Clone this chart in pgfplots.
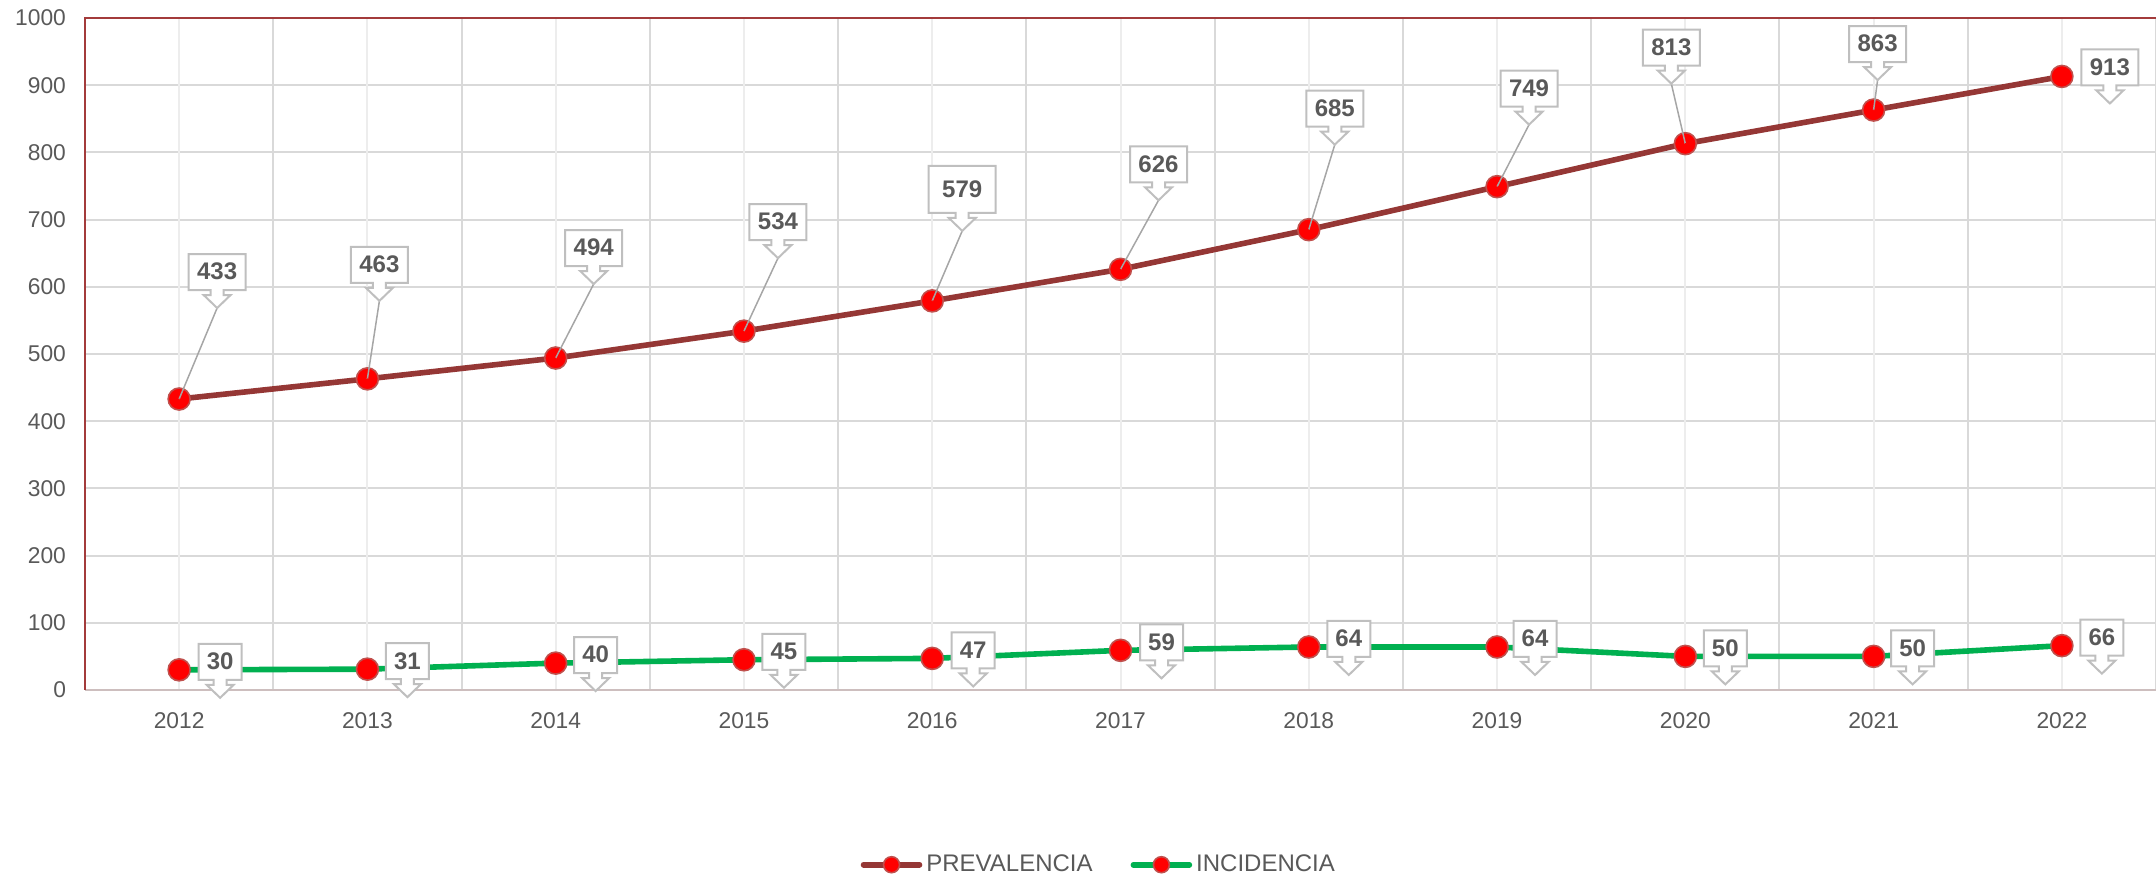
\documentclass[border=0pt]{standalone}
\usepackage{fontspec}
\setmainfont{Liberation Sans}
\usepackage{pgfplots}
\usepackage{pgfplotstable}
\pgfplotsset{compat=1.18}
\definecolor{prevc}{HTML}{953735}
\definecolor{incc}{HTML}{00B050}
\definecolor{mkred}{HTML}{FF0000}
\definecolor{mkbord}{HTML}{C0504D}
\definecolor{txtgray}{HTML}{595959}
\definecolor{gridc}{HTML}{D9D9D9}
\definecolor{gridl}{HTML}{EDEDED}
\definecolor{boxc}{HTML}{BFBFBF}
\definecolor{leadc}{HTML}{A6A6A6}
\definecolor{axred}{HTML}{A33B3B}
\definecolor{axbot}{HTML}{CDBEBE}

\pgfplotstableread{
x y dx dy sw fw hh lead
0 433 19 45.5 11 28.5 18 1
1 463 6 39 11 28.5 18 1
2 494 19 37 11 28.5 18 1
3 534 17 36.5 11 28.5 18 1
4 579 15 35 13.5 33.5 23.5 1
5 626 19 34.5 11 28.5 18 1
6 685 13 42.5 11 28.5 18 1
7 749 16 31 11 28.5 18 1
8 813 -7 30 11 28.5 18 1
9 863 2 15 11 28.5 18 1
10 913 24 -13.5 11 28.5 18 0
}\prevtab

\pgfplotstableread{
x y dx dy sw fw hh lead
0 30 20.5 -14 7.5 21.5 18 0
1 31 20 -14 7.5 21.5 18 0
2 40 20 -14 7.5 21.5 18 0
3 45 20 -14 7.5 21.5 18 0
4 47 20.5 -14 7.5 21.5 18 0
5 59 20.5 -14 7.5 21.5 18 0
6 64 20 -14 7.5 21.5 18 0
7 64 19 -14 7.5 21.5 18 0
8 50 20 -14 7.5 21.5 18 0
9 50 19.5 -14 7.5 21.5 18 0
10 66 20 -14 7.5 21.5 18 0
}\inctab

\pgfplotsset{
  callout/.style={
    scatter, only marks, mark=*, mark size=0.01pt, color=mkred,
    visualization depends on={\thisrow{dx}\as\cdx},
    visualization depends on={\thisrow{dy}\as\cdy},
    visualization depends on={\thisrow{sw}\as\csw},
    visualization depends on={\thisrow{fw}\as\cfw},
    visualization depends on={\thisrow{hh}\as\chh},
    visualization depends on={\thisrow{lead}\as\clead},
    visualization depends on={\thisrow{y}\as\clbl},
    scatter/@pre marker code/.code={%
      \draw[leadc, line width=0.75pt, draw opacity=\clead] (0pt,0pt) -- (\cdx pt,\cdy pt);
      \draw[boxc, line width=1pt, fill=white, line join=miter]
        (\cdx pt,\cdy pt) -- ++(-6.75pt,6.5pt) -- ++(3.5pt,0pt) -- ++(0pt,2.5pt)
        -- ++(-\csw pt,0pt) -- ++(0pt,\chh pt) -- ++(\cfw pt,0pt) -- ++(0pt,-\chh pt)
        -- ++(-\csw pt,0pt) -- ++(0pt,-2.5pt) -- ++(3.5pt,0pt) -- cycle;
      \path (\cdx pt,\cdy pt) ++(0pt,9pt) node[anchor=south, minimum height=\chh pt,
        inner sep=0pt, text=txtgray, font=\bfseries\fontsize{12}{14}\selectfont]
        {\pgfmathprintnumber[fixed,precision=0,assume math mode=true]{\clbl}};
    },
    scatter/@post marker code/.code={},
  }
}

\begin{document}
\begin{tikzpicture}
\begin{axis}[
  scale only axis, width=1035.5pt, height=336pt,
  xmin=-0.5, xmax=10.5, ymin=0, ymax=1000,
  clip=false,
  axis line style={draw=none},
  tick style={draw=none},
  xtick={-0.5,0.5,...,10.5}, xticklabels={},
  extra x ticks={0,1,2,3,4,5,6,7,8,9,10},
  extra x tick labels={2012,2013,2014,2015,2016,2017,2018,2019,2020,2021,2022},
  extra x tick style={grid=major, major grid style={gridl, line width=1pt}},
  ytick={0,100,...,1000},
  xmajorgrids, ymajorgrids,
  major grid style={gridc, line width=1pt},
  /pgf/number format/assume math mode=true,
  /pgf/number format/1000 sep={},
  ticklabel style={font=\fontsize{11.4}{13}\selectfont, text=txtgray},
  yticklabel style={xshift=-6pt},
  xticklabel style={yshift=-7.75pt},
  legend style={draw=none, fill=none, at={(0.490,-0.26)}, anchor=center,
    legend columns=-1, font=\fontsize{12}{14}\selectfont, text=txtgray,
    /tikz/every even column/.append style={column sep=17pt}},
  legend image code/.code={%
    \draw[#1, line cap=round, mark repeat=2, mark phase=2, mark size=4pt]
      plot coordinates {(0pt,0pt) (14pt,0pt) (28pt,0pt)};
  },
]
\draw[axbot, line width=1pt] (rel axis cs:0,0) -- (rel axis cs:1,0);
\draw[axred, line width=1pt] (rel axis cs:0,0) -- (rel axis cs:0,1) -- (rel axis cs:1,1);

\addplot[prevc, line width=2.8pt, mark=*, mark size=5.5pt,
  mark options={solid, fill=mkred, draw=mkbord, line width=0.8pt}]
  table[x=x, y=y]{\prevtab};
\addlegendentry{PREVALENCIA}
\addplot[incc, line width=2.8pt, mark=*, mark size=5.5pt,
  mark options={solid, fill=mkred, draw=mkbord, line width=0.8pt}]
  table[x=x, y=y]{\inctab};
\addlegendentry{INCIDENCIA}

\addplot[callout, forget plot] table[x=x, y=y]{\prevtab};
\addplot[callout, forget plot] table[x=x, y=y]{\inctab};

\coordinate (SW) at (rel axis cs:0,0);
\coordinate (NE) at (rel axis cs:1,1);
\end{axis}
\pgfresetboundingbox
\path[use as bounding box] ([xshift=-42.5pt,yshift=-93pt]SW) rectangle ([yshift=9pt]NE);
\end{tikzpicture}
\end{document}
